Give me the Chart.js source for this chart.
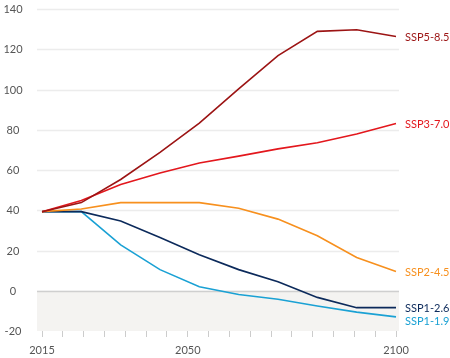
<!DOCTYPE html>
<html lang="en">
<head>
  <meta charset="UTF-8">
  <title>SSP emissions pathways</title>
  <script src="https://cdn.jsdelivr.net/npm/chart.js"></script>
  <style>
    body { margin: 0; background: #fff; }
    #wrap { width: 450px; height: 358px; }
  </style>
</head>
<body>
  <div id="wrap"><canvas id="plot" width="450" height="358"></canvas></div>

  <script>
    const years = [2015, 2020, 2030, 2040, 2050, 2060, 2070, 2080, 2090, 2100];
    const ssp585 = [39.3, 43.8, 55.3, 68.8, 83.3, 100.3, 116.8, 128.9, 129.7, 126.3];
    const ssp370 = [39.3, 44.8, 52.8, 58.5, 63.5, 66.9, 70.5, 73.5, 77.9, 83.1];
    const ssp245 = [39.3, 40.6, 43.8, 43.8, 43.8, 41.0, 35.6, 27.3, 16.5, 9.6];
    const ssp126 = [39.3, 39.3, 34.7, 26.5, 17.9, 10.5, 4.5, -3.3, -8.4, -8.4];
    const ssp119 = [39.3, 39.3, 22.8, 10.5, 2.0, -1.9, -4.2, -7.6, -10.6, -13.0];
    const seriesNames = ["SSP5-8.5", "SSP3-7.0", "SSP2-4.5", "SSP1-2.6", "SSP1-1.9"];
    const seriesColors = ["#9c1414", "#e3171d", "#f7901e", "#0c2a5b", "#1aa1d4"];
    const xTickLabels = [2015, 2050, 2100];
    const yTicks = [-20, 0, 20, 40, 60, 80, 100, 120, 140];

    const font = { family: "Lato, 'Open Sans', sans-serif", size: 11 };

    // light grid, shaded negative zone, zero line and y labels, a bit wider than the data
    const backdrop = {
      id: "backdrop",
      beforeDatasetsDraw(chart) {
        const { ctx, chartArea: a, scales: { y } } = chart;
        const l = a.left - 5, r = a.right + 3;
        ctx.save();
        ctx.fillStyle = "#f4f3f1";
        ctx.fillRect(l, y.getPixelForValue(0), r - l, y.getPixelForValue(-20) - y.getPixelForValue(0));
        ctx.font = "11px " + font.family;
        ctx.textAlign = "center";
        ctx.textBaseline = "middle";
        yTicks.forEach(v => {
          const py = Math.round(y.getPixelForValue(v)) + 0.5;
          ctx.fillStyle = "#555";
          ctx.fillText(String(v), 13, py);
          if (v === -20) return;
          ctx.strokeStyle = v === 0 ? "#cfcfcf" : "#ececec";
          ctx.lineWidth = 1.5;
          ctx.beginPath();
          ctx.moveTo(l, py);
          ctx.lineTo(r, py);
          ctx.stroke();
        });
        ctx.restore();
      }
    };

    // series names at the end of each line, nudged apart when they crowd
    const endLabels = {
      id: "endLabels",
      afterDatasetsDraw(chart) {
        const { ctx, chartArea: a } = chart;
        const items = chart.data.datasets.map((ds, i) => {
          const pts = chart.getDatasetMeta(i).data;
          return { text: ds.label, color: ds.borderColor, y: pts[pts.length - 1].y };
        }).sort((p, q) => p.y - q.y);
        for (let i = 1; i < items.length; i++) {
          if (items[i].y - items[i - 1].y < 13) items[i].y = items[i - 1].y + 13;
        }
        ctx.save();
        ctx.font = "11px " + font.family;
        ctx.textAlign = "left";
        ctx.textBaseline = "middle";
        items.forEach(it => {
          ctx.fillStyle = it.color;
          ctx.fillText(it.text, a.right + 9, it.y + 1);
        });
        ctx.restore();
      }
    };

    const values = [ssp585, ssp370, ssp245, ssp126, ssp119];

    new Chart(document.getElementById("plot"), {
      type: "line",
      data: {
        labels: years,
        datasets: values.map((d, i) => ({
          label: seriesNames[i],
          data: d,
          borderColor: seriesColors[i],
          borderWidth: 1.6,
          pointRadius: 0,
          tension: 0,
          fill: false,
          xAxisID: "x"
        }))
      },
      options: {
        responsive: false,
        animation: false,
        layout: { padding: { top: 9, right: 54, left: 0, bottom: 0 } },
        plugins: { legend: { display: false }, tooltip: { enabled: false } },
        scales: {
          x: { type: "category", display: false },
          xt: {
            type: "linear",
            position: "bottom",
            min: 2015,
            max: 2100,
            border: { display: false },
            grid: { drawOnChartArea: false, drawTicks: true, tickLength: 6, color: "#cccccc", lineWidth: 1 },
            ticks: {
              stepSize: 5,
              autoSkip: false,
              maxRotation: 0,
              padding: 7,
              color: "#555",
              font: font,
              callback: v => xTickLabels.includes(v) ? String(v) : ""
            },
            afterFit(s) { s.height = 27; }
          },
          y: {
            min: -20,
            max: 140,
            border: { display: false },
            grid: { display: false, drawTicks: false },
            ticks: { stepSize: 20, display: false },
            afterFit(s) { s.width = 42; }
          }
        }
      },
      plugins: [backdrop, endLabels]
    });
  </script>
</body>
</html>
